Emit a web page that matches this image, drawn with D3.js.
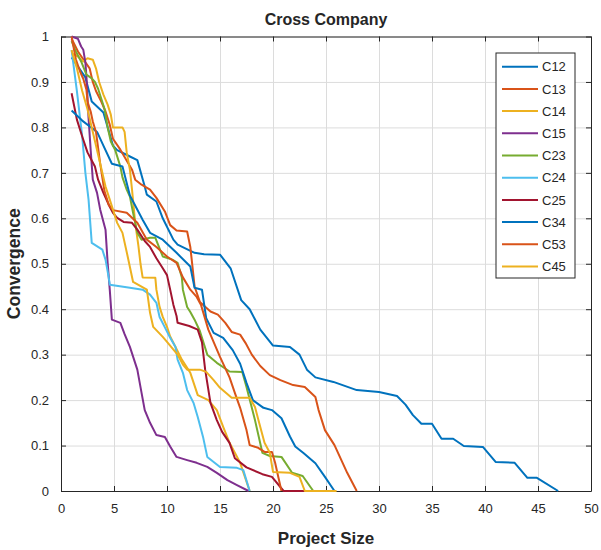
<!DOCTYPE html>
<html>
<head>
<meta charset="utf-8">
<script src="https://cdn.jsdelivr.net/npm/d3@7"></script>
<style>
  body { margin: 0; background: #fff; }
  text { font-family: "Liberation Sans", Arial, sans-serif; fill: #262626; }
</style>
</head>
<body>
<div id="chart"></div>
<script>
const seriesNames = ['C12', 'C13', 'C14', 'C15', 'C23', 'C24', 'C25', 'C34', 'C53', 'C45'];
const seriesColors = ['#0072BD', '#D95319', '#EDB120', '#7E2F8E', '#77AC30', '#4DBEEE', '#A2142F', '#0072BD', '#D95319', '#EDB120'];
const xTicks = [0, 5, 10, 15, 20, 25, 30, 35, 40, 45, 50];
const yTicks = [0, 0.1, 0.2, 0.3, 0.4, 0.5, 0.6, 0.7, 0.8, 0.9, 1];

// [project size, convergence]
const C12 = [[1,0.954],[2.3,0.91],[2.9,0.857],[4,0.833],[4.9,0.76],[5.3,0.75],[6.5,0.736],[7.2,0.728],[7.9,0.67],[8.1,0.652],[9,0.637],[9.6,0.6],[10.6,0.553],[11,0.542],[12.6,0.524],[13.5,0.521],[15,0.52],[16,0.49],[17,0.42],[17.8,0.4],[18.8,0.355],[20,0.32],[21.6,0.317],[22.5,0.3],[23.2,0.267],[24,0.25],[25.7,0.24],[27.9,0.222],[30,0.218],[31.7,0.209],[32.5,0.19],[33.2,0.167],[34,0.148],[35,0.148],[35.9,0.115],[37,0.115],[38,0.099],[39.8,0.097],[41,0.064],[42.8,0.062],[44,0.029],[44.9,0.029],[46.9,0]];
const C13 = [[1,0.995],[1.6,0.967],[2.1,0.95],[2.7,0.93],[3,0.9],[3.3,0.88],[3.8,0.857],[4.2,0.835],[4.6,0.806],[4.9,0.775],[5.6,0.751],[6.7,0.707],[7,0.685],[7.6,0.674],[8.4,0.663],[9,0.645],[9.8,0.615],[10.3,0.585],[10.9,0.573],[11.9,0.571],[12.2,0.537],[12.4,0.494],[12.6,0.45],[13.1,0.416],[14.1,0.395],[14.8,0.388],[15.5,0.37],[16.1,0.35],[16.9,0.344],[17.4,0.326],[18,0.3],[18.8,0.275],[19.7,0.255],[20.7,0.244],[21.9,0.233],[23,0.229],[24,0.207],[24.3,0.178],[24.9,0.134],[25.8,0.101],[27,0.04],[27.9,0]];
const C14 = [[1,0.963],[1.6,0.956],[2.1,0.945],[2.5,0.952],[3,0.949],[3.3,0.93],[3.6,0.9],[4,0.872],[4.4,0.85],[4.7,0.828],[4.9,0.8],[5.8,0.8],[6,0.79],[6.2,0.745],[6.5,0.707],[6.7,0.663],[7,0.59],[7.3,0.54],[7.5,0.5],[7.7,0.47],[8.9,0.469],[9,0.443],[9.3,0.405],[9.6,0.383],[10,0.361],[10.3,0.34],[10.8,0.317],[11.4,0.289],[12.2,0.26],[12.9,0.211],[13.9,0.2],[14.7,0.178],[15.3,0.141],[15.9,0.106],[16.9,0.062],[17.8,0]];
const C15 = [[1,1],[1.6,0.995],[1.9,0.978],[2.1,0.971],[2.3,0.943],[2.4,0.912],[2.6,0.82],[2.8,0.75],[3,0.685],[3.4,0.656],[3.7,0.619],[4.2,0.575],[4.4,0.502],[4.6,0.443],[4.8,0.377],[5.6,0.37],[6,0.345],[6.5,0.317],[7.2,0.267],[7.6,0.216],[7.9,0.178],[8.4,0.15],[9,0.123],[9.8,0.119],[10.3,0.098],[10.9,0.075],[11.9,0.068],[12.8,0.062],[13.8,0.053],[14.7,0.04],[15.7,0.024],[16.6,0.013],[17.7,0]];
const C23 = [[1,0.99],[1.4,0.967],[1.9,0.945],[2.4,0.916],[2.9,0.908],[3.2,0.9],[3.5,0.885],[3.8,0.863],[4.1,0.841],[4.4,0.8],[4.7,0.769],[5.1,0.751],[5.6,0.714],[5.8,0.69],[6.2,0.663],[6.5,0.648],[6.8,0.612],[7.2,0.568],[7.6,0.553],[8.4,0.557],[8.9,0.557],[9.6,0.516],[10.5,0.509],[11,0.502],[11.4,0.47],[11.5,0.443],[11.9,0.405],[12.2,0.394],[12.6,0.377],[13.1,0.352],[13.8,0.3],[14.7,0.282],[15.9,0.263],[17.1,0.262],[17.5,0.229],[18.3,0.156],[19,0.084],[19.7,0.077],[20.8,0.075],[21.8,0.04],[22.8,0.033],[23.8,0]];
const C24 = [[1,0.97],[1.5,0.88],[2,0.78],[2.3,0.7],[2.6,0.641],[2.9,0.546],[3.9,0.531],[4.2,0.509],[4.5,0.47],[4.6,0.454],[6.5,0.447],[7.7,0.443],[8.4,0.432],[9,0.414],[9.3,0.383],[9.8,0.36],[10.3,0.337],[10.8,0.317],[11,0.289],[11.5,0.26],[11.9,0.222],[12.5,0.194],[12.9,0.163],[13.4,0.119],[13.8,0.075],[15,0.053],[16.6,0.051],[17.2,0.046],[17.8,0]];
const C25 = [[1,0.875],[1.5,0.817],[2,0.78],[2.5,0.745],[3.2,0.714],[3.5,0.685],[4,0.656],[4.5,0.63],[4.9,0.612],[5.3,0.601],[5.9,0.592],[6.7,0.59],[7.2,0.575],[7.9,0.55],[8.4,0.537],[9,0.512],[9.6,0.49],[10,0.475],[10.3,0.443],[10.6,0.41],[10.9,0.385],[11,0.37],[12.1,0.363],[12.9,0.355],[13.3,0.327],[13.6,0.267],[14.1,0.194],[14.7,0.156],[15.2,0.13],[15.9,0.106],[16.4,0.072],[17.5,0.052],[19,0.037],[19.9,0.031],[21,0],[24,0]];
const C34 = [[1,0.837],[2,0.815],[3.4,0.79],[4,0.76],[4.8,0.72],[5.8,0.714],[6.5,0.65],[7.7,0.597],[8.4,0.568],[9.6,0.553],[10.9,0.524],[12.2,0.494],[12.6,0.447],[13.3,0.443],[13.7,0.38],[14.4,0.348],[15.3,0.337],[16.2,0.31],[16.9,0.28],[17.5,0.238],[18.1,0.2],[19.1,0.183],[19.9,0.178],[20.8,0.16],[21.6,0.12],[22.1,0.098],[22.9,0.083],[24,0.061],[24.9,0.031],[25.8,0]];
const C53 = [[1,1],[1.4,0.95],[1.8,0.923],[2.1,0.907],[2.4,0.883],[2.5,0.857],[2.8,0.835],[3,0.813],[3.3,0.79],[3.7,0.72],[4.1,0.66],[4.5,0.63],[4.9,0.618],[6.2,0.612],[7.2,0.59],[8.1,0.553],[9,0.537],[10,0.516],[10.9,0.502],[11.5,0.47],[12.2,0.443],[12.8,0.427],[13.2,0.41],[13.9,0.355],[15,0.295],[15.9,0.25],[16.4,0.216],[16.9,0.183],[17.5,0.134],[17.8,0.101],[18.6,0.095],[19.2,0.086],[19.9,0.086],[20.2,0.062],[20.5,0.031],[20.8,0]];
const C45 = [[1,0.97],[1.5,0.93],[2,0.88],[2.5,0.84],[2.9,0.8],[3.3,0.76],[3.8,0.71],[4.2,0.67],[4.6,0.641],[5.3,0.59],[5.8,0.568],[6.3,0.515],[6.8,0.46],[8.1,0.443],[8.4,0.392],[8.7,0.361],[9.6,0.339],[10,0.328],[11,0.3],[11.5,0.278],[11.9,0.267],[13.1,0.267],[13.7,0.262],[14.4,0.244],[15,0.227],[15.8,0.211],[16.1,0.205],[17.8,0.205],[18.3,0.185],[18.8,0.141],[19.2,0.106],[19.7,0.084],[20,0.042],[21.6,0.04],[22.5,0.031],[23,0],[26,0]];

const seriesValues = [C12, C13, C14, C15, C23, C24, C25, C34, C53, C45];

const width = 601, height = 550;
const margin = { top: 36.5, right: 10, bottom: 59, left: 61 };
const innerW = width - margin.left - margin.right;
const innerH = height - margin.top - margin.bottom;
const axisColor = '#262626';

const svg = d3.select('#chart').append('svg')
  .attr('width', width)
  .attr('height', height)
  .attr('viewBox', `0 0 ${width} ${height}`);

const g = svg.append('g')
  .attr('transform', `translate(${margin.left},${margin.top})`);

const x = d3.scaleLinear().domain([0, 50]).range([0, innerW]);
const y = d3.scaleLinear().domain([0, 1]).range([innerH, 0]);

// grid
g.append('g')
  .call(d3.axisBottom(x).tickValues(xTicks).tickSize(innerH).tickFormat(''))
  .call(s => s.select('.domain').remove())
  .call(s => s.selectAll('line').attr('stroke', '#dcdcdc'));
g.append('g')
  .call(d3.axisLeft(y).tickValues(yTicks).tickSize(-innerW).tickFormat(''))
  .call(s => s.select('.domain').remove())
  .call(s => s.selectAll('line').attr('stroke', '#dcdcdc'));

// axes with inward ticks on all four sides
const fmt = d => d3.format('~g')(d);
const bottomAxis = g.append('g')
  .attr('transform', `translate(0,${innerH})`)
  .call(d3.axisBottom(x).tickValues(xTicks).tickSizeInner(-5).tickSizeOuter(0).tickPadding(13).tickFormat(fmt));
const leftAxis = g.append('g')
  .call(d3.axisLeft(y).tickValues(yTicks).tickSizeInner(-5).tickSizeOuter(0).tickPadding(12).tickFormat(fmt));
const topAxis = g.append('g')
  .call(d3.axisTop(x).tickValues(xTicks).tickSizeInner(-5).tickSizeOuter(0).tickFormat(''));
const rightAxis = g.append('g')
  .attr('transform', `translate(${innerW},0)`)
  .call(d3.axisRight(y).tickValues(yTicks).tickSizeInner(-5).tickSizeOuter(0).tickFormat(''));

[bottomAxis, leftAxis, topAxis, rightAxis].forEach(a => {
  a.select('.domain').attr('stroke', axisColor);
  a.selectAll('line').attr('stroke', axisColor);
  a.selectAll('text').attr('font-size', 13).style('fill', axisColor);
});

// lines
const line = d3.line().x(d => x(d[0])).y(d => y(d[1]));
g.selectAll('.series')
  .data(seriesValues)
  .join('path')
  .attr('class', 'series')
  .attr('fill', 'none')
  .attr('stroke', (d, i) => seriesColors[i])
  .attr('stroke-width', 2)
  .attr('stroke-linejoin', 'round')
  .attr('d', line);

// titles
svg.append('text')
  .attr('x', margin.left + innerW / 2)
  .attr('y', 25)
  .attr('text-anchor', 'middle')
  .attr('font-size', 16)
  .attr('font-weight', 'bold')
  .text('Cross Company');

svg.append('text')
  .attr('x', margin.left + innerW / 2)
  .attr('y', 544)
  .attr('text-anchor', 'middle')
  .attr('font-size', 17)
  .attr('font-weight', 'bold')
  .text('Project Size');

svg.append('text')
  .attr('transform', `translate(20,${margin.top + innerH / 2}) rotate(-90)`)
  .attr('text-anchor', 'middle')
  .attr('font-size', 17.5)
  .attr('font-weight', 'bold')
  .text('Convergence');

// legend
const legend = svg.append('g').attr('transform', 'translate(496,53)');
legend.append('rect')
  .attr('width', 79)
  .attr('height', 225)
  .attr('fill', '#fff')
  .attr('stroke', axisColor)
  .attr('stroke-width', 1);
const item = legend.selectAll('.item')
  .data(seriesNames)
  .join('g')
  .attr('class', 'item')
  .attr('transform', (d, i) => `translate(0,${13.7 + i * 22.2})`);
item.append('line')
  .attr('x1', 6).attr('x2', 42)
  .attr('stroke', (d, i) => seriesColors[i])
  .attr('stroke-width', 2);
item.append('text')
  .attr('x', 46)
  .attr('dy', '0.36em')
  .attr('font-size', 13)
  .text(d => d);
</script>
</body>
</html>
